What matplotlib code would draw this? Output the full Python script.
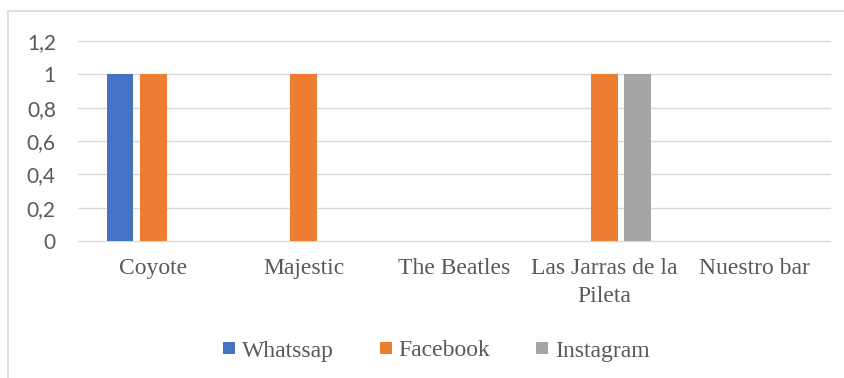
import matplotlib
matplotlib.use("Agg")
import matplotlib.pyplot as plt
from matplotlib.lines import Line2D
import numpy as np

# data
CATEGORIES = ["Coyote", "Majestic", "The Beatles", "Las Jarras de la\nPileta", "Nuestro bar"]
WHATSSAP = [1, 0, 0, 0, 0]
FACEBOOK = [1, 1, 0, 1, 0]
INSTAGRAM = [0, 0, 0, 1, 0]
SERIES_NAMES = ["Whatssap", "Facebook", "Instagram"]
Y_TICKS = [0, 0.2, 0.4, 0.6, 0.8, 1.0, 1.2]
Y_TICK_LABELS = ["0", "0,2", "0,4", "0,6", "0,8", "1", "1,2"]

COLORS = ["#4472C4", "#ED7D31", "#A5A5A5"]
GRID = "#D9D9D9"
TEXT = "#595959"
SERIF = "Liberation Serif"

W, H = 845, 378
fig = plt.figure(figsize=(W / 100, H / 100), dpi=100)
ax = fig.add_axes([78 / W, 1 - 241 / H, (830 - 78) / W, 200 / H])

x = np.arange(len(CATEGORIES))
step = 0.22
width = 0.178
for j, vals in enumerate([WHATSSAP, FACEBOOK, INSTAGRAM]):
    ax.bar(x + (j - 1) * step, vals, width, color=COLORS[j],
           label=SERIES_NAMES[j], zorder=3)

ax.set_xlim(-0.5, len(CATEGORIES) - 0.5)
ax.set_ylim(0, 1.2)

for t in Y_TICKS:
    ax.axhline(t, color=GRID, linewidth=1.0, zorder=1, clip_on=False)

ax.set_yticks(Y_TICKS)
ax.set_yticklabels(Y_TICK_LABELS, fontsize=15, color=TEXT, family="Lato")
ax.set_xticks(x)
ax.set_xticklabels(CATEGORIES, fontsize=17, color=TEXT, family=SERIF,
                   linespacing=1.45)
ax.tick_params(axis="y", length=0, pad=16)
ax.tick_params(axis="x", length=0, pad=12)
for s in ax.spines.values():
    s.set_visible(False)

# chart-area border (only left and top are inside the picture)
fig.add_artist(Line2D([8 / W, 8 / W], [0, 1 - 11 / H], color=GRID,
                      linewidth=1.2, transform=fig.transFigure))
fig.add_artist(Line2D([8 / W, 1], [1 - 11 / H, 1 - 11 / H], color=GRID,
                      linewidth=1.2, transform=fig.transFigure))

leg = fig.legend(loc="center left", bbox_to_anchor=(223 / W, 1 - 351 / H),
                 ncol=3, frameon=False, borderpad=0, borderaxespad=0,
                 handlelength=0.5, handleheight=0.45, handletextpad=0.3,
                 columnspacing=1.95, prop={"family": SERIF, "size": 17})
for t in leg.get_texts():
    t.set_color(TEXT)

fig.savefig("out.png", dpi=100)
